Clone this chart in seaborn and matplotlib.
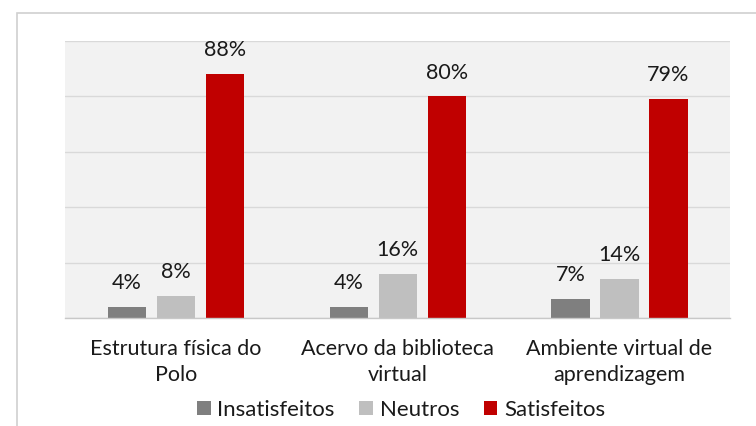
import matplotlib
matplotlib.use("Agg")
import matplotlib.pyplot as plt
import seaborn as sns
import pandas as pd
from matplotlib.patches import Rectangle, Patch

categories = ["Estrutura física do\nPolo", "Acervo da biblioteca\nvirtual", "Ambiente virtual de\naprendizagem"]
series = ["Insatisfeitos", "Neutros", "Satisfeitos"]
insatisfeitos = [4, 4, 7]
neutros = [8, 16, 14]
satisfeitos = [88, 80, 79]
colors = ["#7f7f7f", "#bfbfbf", "#c00000"]

rows = []
for name, vals in zip(series, [insatisfeitos, neutros, satisfeitos]):
    for c, v in zip(categories, vals):
        rows.append({"cat": c, "serie": name, "val": v})
df = pd.DataFrame(rows)

sns.set_theme(style="white")
plt.rcParams["font.family"] = ["Lato", "DejaVu Sans"]

fig = plt.figure(figsize=(7.56, 4.26), dpi=100)
ax = fig.add_axes([0.086, 0.2535, 0.880, 0.650])
ax.set_facecolor("#f2f2f2")

sns.barplot(data=df, x="cat", y="val", hue="serie", hue_order=series,
            palette=colors, width=0.663, gap=0.22, ax=ax, legend=False,
            saturation=1, edgecolor="none", zorder=3)

for cont in ax.containers:
    ax.bar_label(cont, labels=[f"{int(v)}%" for v in cont.datavalues],
                 padding=10, fontsize=15.5, color="#1a1a1a")

ax.set_ylim(0, 100)
ax.set_xlim(-0.5, 2.5)
ax.set_yticks([0, 20, 40, 60, 80, 100])
ax.yaxis.grid(True, color="#d9d9d9", linewidth=1, zorder=0)
ax.set_axisbelow(True)
ax.tick_params(axis="y", left=False, labelleft=False)
ax.tick_params(axis="x", bottom=False, labelsize=15.5, labelcolor="#1a1a1a", pad=9)
for lbl in ax.get_xticklabels():
    lbl.set_linespacing(1.4)
ax.set_xlabel("")
ax.set_ylabel("")
for s in ["top", "left", "right"]:
    ax.spines[s].set_visible(False)
ax.spines["bottom"].set_color("#c8c8c8")
ax.spines["bottom"].set_linewidth(1)
ax.spines["bottom"].set_zorder(4)

handles = [Patch(facecolor=c, edgecolor="none") for c in colors]
fig.legend(handles, series, loc="center", bbox_to_anchor=(401 / 756, 1 - 410 / 426),
           ncol=3, frameon=False, fontsize=16, handlelength=0.62,
           handleheight=0.62, handletextpad=0.3, columnspacing=1.1,
           labelcolor="#1a1a1a", borderpad=0)

fig.patches.append(Rectangle((17 / 756, -0.1), 1.2, 1 - 13 / 426 + 0.1,
                             transform=fig.transFigure, fill=False,
                             edgecolor="#d0d0d0", linewidth=1.2))

fig.savefig("out.png", dpi=100, facecolor="white")
